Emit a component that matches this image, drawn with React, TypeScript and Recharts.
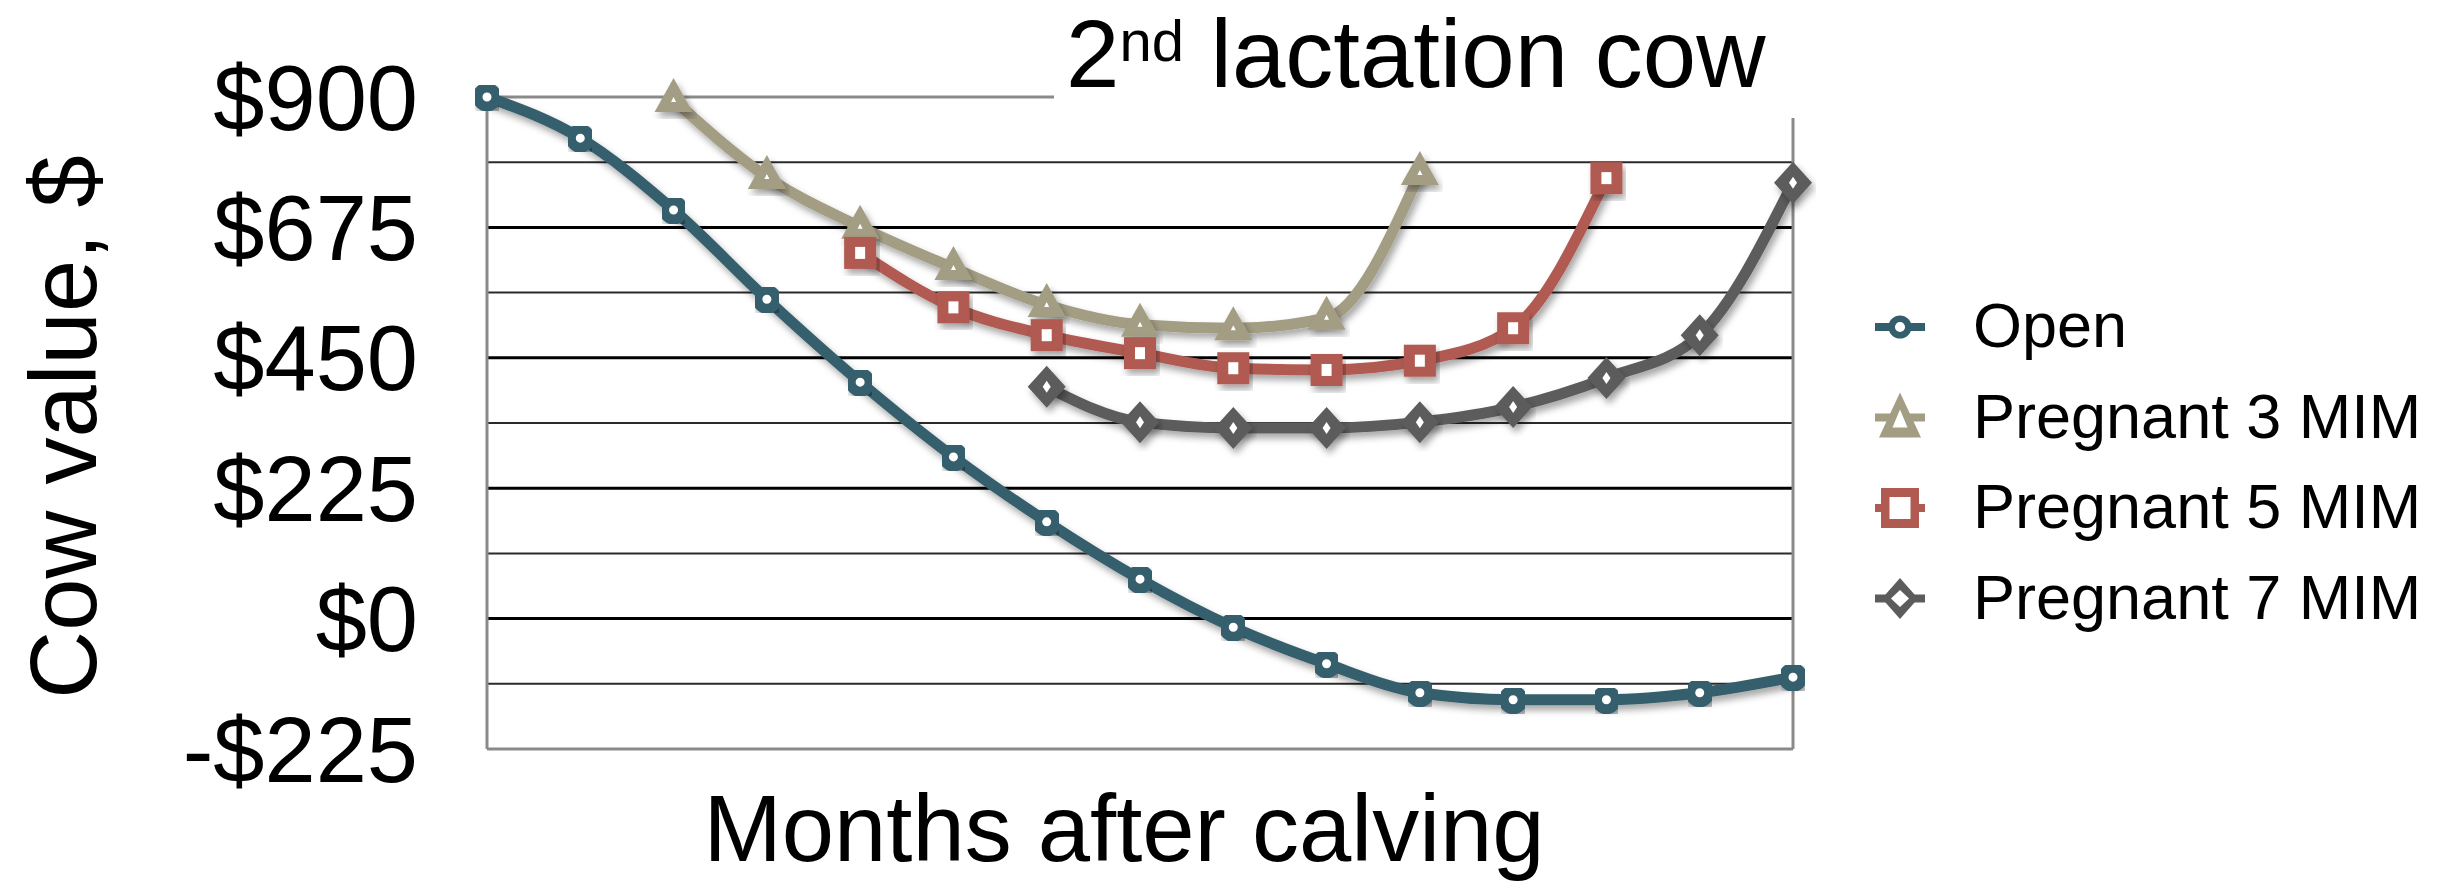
import { LineChart, Line, XAxis, YAxis, ReferenceLine, Legend } from "recharts";

const FONT = '"Liberation Sans", Arial, sans-serif';

// months after calving, one point per month
const MONTHS = [0, 1, 2, 3, 4, 5, 6, 7, 8, 9, 10, 11, 12, 13, 14];

// cow value in $, open cow over the whole lactation
const OPEN = [900, 829, 705, 551, 408, 279, 167, 68, -15, -78, -128, -140, -140, -128, -101];
// pregnant cows, series start at the month shown next to them
const PREG_3 = [895, 762, 676, 605, 541, 507, 501, 519, 769]; // from month 2
const PREG_5 = [631, 537, 489, 458, 432, 429, 445, 501, 760]; // from month 4
const PREG_7 = [400, 339, 329, 329, 339, 365, 415, 489, 752]; // from month 6

const Y_TICKS = [-225, 0, 225, 450, 675, 900];
const GRID_MAJOR = [0, 225, 450, 675];
const GRID_MINOR = [-112.5, 112.5, 337.5, 562.5, 787.5];

type Shape = "circle" | "triangle" | "square" | "diamond";

const SERIES = [
  { key: "open", name: "Open", color: "#355E6D", shape: "circle" as Shape, start: 0, values: OPEN },
  { key: "p3", name: "Pregnant 3 MIM", color: "#A39D84", shape: "triangle" as Shape, start: 2, values: PREG_3 },
  { key: "p5", name: "Pregnant 5 MIM", color: "#B05A51", shape: "square" as Shape, start: 4, values: PREG_5 },
  { key: "p7", name: "Pregnant 7 MIM", color: "#5C5C5C", shape: "diamond" as Shape, start: 6, values: PREG_7 },
];

const data = MONTHS.map((m, i) => {
  const row: Record<string, number | undefined> = { month: m };
  SERIES.forEach((s) => {
    const j = i - s.start;
    row[s.key] = j >= 0 && j < s.values.length ? s.values[j] : undefined;
  });
  return row;
});

const money = (v: number) => (v < 0 ? `-$${-v}` : `$${v}`);

// point markers on the lines: heavy outline, tiny white centre
function Marker({ shape, cx, cy, color }: { shape: Shape; cx: number; cy: number; color: string }) {
  switch (shape) {
    case "circle":
      return <circle cx={cx} cy={cy} r={9.5} fill="#fff" stroke={color} strokeWidth={10} />;
    case "triangle":
      return (
        <g transform={`translate(${cx},${cy})`}>
          <polygon points="0,-22 19,12 -19,12" fill={color} />
          <polygon points="0,-3 2.5,2 -2.5,2" fill="#fff" />
        </g>
      );
    case "square":
      return (
        <g transform={`translate(${cx},${cy})`}>
          <rect x={-16} y={-16} width={32} height={32} fill={color} />
          <rect x={-5} y={-6} width={10} height={12} fill="#fff" />
        </g>
      );
    default:
      return (
        <g transform={`translate(${cx},${cy})`}>
          <polygon points="0,-21 19,0 0,21 -19,0" fill={color} />
          <polygon points="0,-6 4,0 0,6 -4,0" fill="#fff" />
        </g>
      );
  }
}

// legend swatches: line stub with a more open marker
function LegendIcon({ shape, cx, cy, color }: { shape: Shape; cx: number; cy: number; color: string }) {
  let mark;
  switch (shape) {
    case "circle":
      mark = <circle r={8.3} fill="#fff" stroke={color} strokeWidth={6.5} />;
      break;
    case "triangle":
      mark = (
        <>
          <polygon points="0,-25 21,20 -21,20" fill={color} />
          <polygon points="0,-8 7.5,10 -7.5,10" fill="#fff" />
        </>
      );
      break;
    case "square":
      mark = (
        <>
          <rect x={-19} y={-20} width={38} height={40} fill={color} />
          <rect x={-10.5} y={-11} width={21} height={22} fill="#fff" />
        </>
      );
      break;
    default:
      mark = (
        <>
          <polygon points="0,-20.5 18,0 0,20.5 -18,0" fill={color} />
          <polygon points="0,-8.5 9,0 0,8.5 -9,0" fill="#fff" />
        </>
      );
  }
  return (
    <g transform={`translate(${cx},${cy})`}>
      <line x1={-25} x2={25} y1={0} y2={0} stroke={color} strokeWidth={8} />
      {mark}
    </g>
  );
}

function LegendBox() {
  return (
    <svg width={594} height={380}>
      {SERIES.map((s, i) => {
        const y = 45 + i * 90.5;
        return (
          <g key={s.key}>
            <LegendIcon shape={s.shape} cx={40} cy={y} color={s.color} />
            <text x={113} y={y + 20} fontSize={63} fontFamily={FONT} fill="#000">
              {s.name}
            </text>
          </g>
        );
      })}
    </svg>
  );
}

function XTitle(props: any) {
  const { x, y, width } = props.viewBox;
  return (
    <text x={x + width / 2 - 16} y={y + 112} textAnchor="middle" fontSize={94} fontFamily={FONT} fill="#000">
      Months after calving
    </text>
  );
}

function YTitle(props: any) {
  const { x, y, height } = props.viewBox;
  return (
    <text
      transform={`translate(${x + 96},${y + height / 2 + 4}) rotate(-90)`}
      textAnchor="middle"
      fontSize={94}
      fontFamily={FONT}
      fill="#000"
    >
      Cow value, $
    </text>
  );
}

export default function App() {
  return (
    <div style={{ position: "absolute", left: 0, top: 0, width: 2454, height: 883, background: "#fff" }}>
      <svg width={0} height={0} style={{ position: "absolute" }}>
        <defs>
          <filter id="lineShadow" x="-10%" y="-10%" width="120%" height="130%">
            <feDropShadow dx={3} dy={5} stdDeviation={3.5} floodColor="#000" floodOpacity={0.35} />
          </filter>
        </defs>
      </svg>
      <LineChart width={2454} height={883} data={data} margin={{ top: 97, right: 661, bottom: 0, left: 0 }}>
        <XAxis
          dataKey="month"
          type="number"
          domain={[0, 14]}
          tick={false}
          tickLine={false}
          height={134}
          axisLine={{ stroke: "#8a8a8a", strokeWidth: 3 }}
          label={{ content: XTitle }}
        />
        <YAxis
          type="number"
          domain={[-225, 900]}
          ticks={Y_TICKS}
          tickFormatter={money}
          width={487}
          tickSize={0}
          tickMargin={69}
          tickLine={false}
          axisLine={{ stroke: "#8a8a8a", strokeWidth: 3 }}
          tick={{ fontSize: 92, fill: "#000", fontFamily: FONT }}
          label={{ content: YTitle }}
        />
        {GRID_MINOR.map((v) => (
          <ReferenceLine key={`mi${v}`} y={v} stroke="#2a2a2a" strokeWidth={2} />
        ))}
        {GRID_MAJOR.map((v) => (
          <ReferenceLine key={`ma${v}`} y={v} stroke="#000" strokeWidth={3} />
        ))}
        <ReferenceLine y={900} stroke="#8a8a8a" strokeWidth={3} />
        <ReferenceLine x={14} stroke="#8a8a8a" strokeWidth={3} />
        {SERIES.map((s) => (
          <Line
            key={s.key}
            dataKey={s.key}
            name={s.name}
            type="monotone"
            stroke={s.color}
            strokeWidth={11}
            filter="url(#lineShadow)"
            isAnimationActive={false}
            activeDot={false}
            dot={(p: any) =>
              p.cy == null || p.value == null ? (
                <g key={`${s.key}-${p.index}`} />
              ) : (
                <g key={`${s.key}-${p.index}`} filter="url(#lineShadow)">
                  <Marker shape={s.shape} cx={p.cx} cy={p.cy} color={s.color} />
                </g>
              )
            }
          />
        ))}
        <Legend
          layout="vertical"
          align="center"
          verticalAlign="middle"
          content={LegendBox}
          wrapperStyle={{ left: 1860, top: 282, width: 594, height: 380 }}
        />
      </LineChart>
      <svg width={2454} height={883} style={{ position: "absolute", left: 0, top: 0, pointerEvents: "none" }}>
        <rect x={1054} y={0} width={780} height={118} fill="#fff" />
        <text x={1066} y={87} fontSize={96} fontFamily={FONT} fill="#000">
          2
          <tspan dy={-26} fontSize={58}>
            nd
          </tspan>
          <tspan dy={26} fontSize={96}>
            {" "}lactation cow
          </tspan>
        </text>
      </svg>
    </div>
  );
}
